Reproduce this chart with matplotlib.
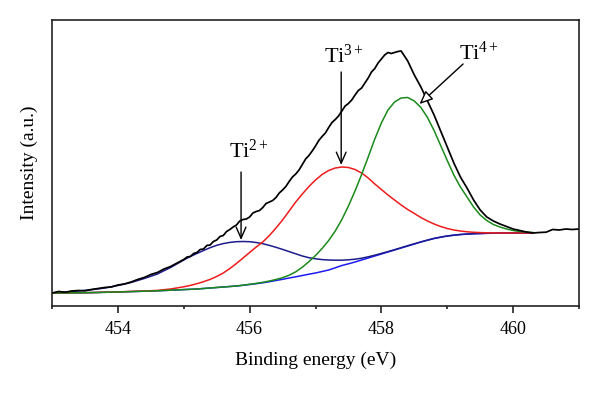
import matplotlib
matplotlib.use("Agg")
import matplotlib.pyplot as plt
from matplotlib.ticker import MultipleLocator

# ---------------- data ----------------
# measured spectrum
energy_raw = [453.00, 453.10, 453.20, 453.30, 453.40, 453.50, 453.60, 453.70, 453.80, 453.90,
              454.00, 454.10, 454.20, 454.30, 454.40, 454.50, 454.60, 454.70, 454.80, 454.90,
              455.00, 455.05, 455.10, 455.15, 455.20, 455.25, 455.30, 455.35, 455.40, 455.45,
              455.50, 455.55, 455.60, 455.65, 455.70, 455.75, 455.80, 455.85, 455.90, 455.95,
              456.00, 456.05, 456.10, 456.15, 456.20, 456.25, 456.30, 456.35, 456.40, 456.45,
              456.50, 456.55, 456.60, 456.65, 456.70, 456.75, 456.80, 456.85, 456.90, 456.95,
              457.00, 457.05, 457.10, 457.15, 457.20, 457.25, 457.30, 457.35, 457.40, 457.45,
              457.50, 457.55, 457.60, 457.65, 457.70, 457.75, 457.80, 457.85, 457.90, 457.95,
              458.00, 458.05, 458.10, 458.15, 458.20, 458.25, 458.30, 458.35, 458.40, 458.50,
              458.60, 458.70, 458.80, 458.90, 459.00, 459.10, 459.20, 459.30, 459.40, 459.50,
              459.60, 459.70, 459.80, 459.90, 460.00, 460.10, 460.20, 460.30, 460.40, 460.50,
              460.60, 460.70, 460.80, 460.90, 461.00]
intensity_raw = [13.0, 14.5, 13.8, 15.0, 15.5, 15.2, 16.5, 17.5, 18.5, 19.0,
                 21.0, 22.0, 24.0, 26.5, 28.5, 31.5, 33.5, 37.0, 39.5, 43.0,
                 46.5, 49.0, 49.5, 52.5, 53.5, 56.5, 57.0, 60.5, 61.0, 64.5,
                 66.0, 69.5, 70.5, 74.5, 76.5, 79.0, 81.0, 85.0, 86.5, 87.0,
                 89.0, 93.0, 94.5, 95.5, 98.5, 102.5, 104.0, 105.5, 108.5, 113.0,
                 116.0, 119.5, 124.5, 129.0, 132.0, 136.0, 141.5, 147.0, 150.5, 155.0,
                 160.0, 165.5, 169.5, 173.0, 178.5, 183.5, 186.5, 190.0, 195.0, 200.0,
                 202.5, 206.0, 211.0, 215.5, 218.0, 223.0, 228.0, 234.0, 237.5, 243.0,
                 247.0, 251.0, 253.5, 252.5, 253.5, 254.5, 255.0, 250.0, 245.0, 231.0,
                 219.0, 205.0, 191.0, 175.0, 159.0, 143.0, 129.0, 118.0, 106.0, 96.0,
                 89.0, 85.0, 82.0, 79.5, 77.0, 75.5, 74.0, 73.0, 73.5, 73.8,
                 76.5, 76.0, 77.0, 76.5, 77.0]

# fitted components, read on a common energy grid
energy_fit = [453.0, 453.2, 453.4, 453.6, 453.8, 454.0, 454.2, 454.4, 454.6, 454.8,
              455.0, 455.1, 455.2, 455.3, 455.4, 455.5, 455.6, 455.7, 455.8, 455.9,
              456.0, 456.1, 456.2, 456.3, 456.4, 456.5, 456.6, 456.7, 456.8, 456.9,
              457.0, 457.1, 457.2, 457.3, 457.4, 457.5, 457.6, 457.7, 457.8, 457.9,
              458.0, 458.1, 458.2, 458.3, 458.4, 458.5, 458.6, 458.7, 458.8, 458.9,
              459.0, 459.1, 459.2, 459.3, 459.4, 459.5, 459.6, 459.7, 459.8, 459.9,
              460.0, 460.1, 460.2, 460.3]
background = [13.0, 13.1, 13.2, 13.4, 13.7, 14.0, 14.4, 14.8, 15.2, 15.8,
              16.4, 16.7, 17.0, 17.5, 18.0, 18.5, 19.0, 19.5, 20.0, 20.7,
              21.5, 22.3, 23.2, 24.3, 25.5, 26.7, 28.0, 29.2, 30.5, 31.8,
              33.0, 34.5, 36.0, 38.2, 40.5, 42.2, 44.0, 46.0, 48.0, 50.0,
              52.0, 54.0, 56.0, 58.0, 60.0, 62.0, 64.0, 65.8, 67.5, 68.8,
              70.0, 70.8, 71.5, 71.9, 72.3, 72.5, 72.7, 72.8, 73.0, 73.0,
              73.0, 73.0, 73.0, 73.0]
ti2_fit = [13.0, 13.9, 15.0, 16.3, 18.0, 20.5, 23.5, 27.5, 32.0, 38.5,
           46.0, 49.5, 52.5, 55.5, 58.3, 60.7, 62.4, 63.6, 64.3, 64.5,
           64.3, 63.5, 62.3, 60.6, 58.7, 56.6, 54.4, 52.2, 50.0, 48.3,
           47.2, 46.4, 46.0, 45.8, 45.8, 46.2, 46.8, 47.8, 49.2, 50.8,
           52.6, 54.4, 56.3, 58.3, 60.3, 62.2, 64.1, 65.9, 67.6, 68.9,
           70.0, 70.8, 71.5, 71.9, 72.3, 72.5, 72.7, 72.8, 73.0, 73.0,
           73.0, 73.0, 73.0, 73.0]
ti3_fit = [13.0, 13.1, 13.2, 13.4, 13.8, 14.1, 14.6, 15.0, 15.6, 17.0,
           19.2, 20.6, 22.3, 24.3, 26.6, 29.5, 33.0, 37.5, 42.5, 48.0,
           53.5, 59.0, 64.0, 70.5, 78.0, 86.0, 95.0, 104.0, 112.0, 119.5,
           126.0, 131.5, 135.5, 138.0, 139.0, 138.5, 136.5, 133.0, 128.0, 122.0,
           116.5, 111.0, 106.0, 101.0, 96.5, 92.5, 88.5, 85.0, 82.0, 79.5,
           77.5, 76.0, 75.0, 74.2, 73.7, 73.4, 73.2, 73.1, 73.0, 73.0,
           73.0, 73.0, 73.0, 73.0]
ti4_fit = [13.0, 13.1, 13.2, 13.4, 13.7, 14.0, 14.4, 14.8, 15.2, 15.8,
           16.4, 16.7, 17.0, 17.5, 18.0, 18.5, 19.0, 19.5, 20.0, 20.8,
           21.7, 22.6, 23.7, 25.0, 26.5, 28.3, 30.8, 34.2, 38.8, 44.3,
           50.5, 57.5, 65.5, 75.0, 86.5, 100.0, 115.0, 131.5, 149.0, 167.0,
           183.0, 196.0, 204.0, 208.0, 208.5, 205.0, 198.5, 188.5, 175.5, 160.5,
           145.5, 131.0, 119.0, 109.0, 99.0, 91.0, 85.5, 81.5, 79.0, 77.0,
           75.5, 74.5, 74.0, 73.5]

x_ticks = [454, 456, 458, 460]
labels = ["Ti$^{2+}$", "Ti$^{3+}$", "Ti$^{4+}$"]
label_pos = [(455.99, 148), (457.43, 243), (459.48, 246)]
arrow_tail = [(455.87, 134), (457.39, 234), (459.24, 242)]
arrow_tip = [(455.87, 66), (457.39, 141), (458.58, 202)]

# ---------------- plotting ----------------
plt.rcParams['font.family'] = ['Liberation Serif', 'DejaVu Serif']
plt.rcParams['mathtext.fontset'] = 'custom'
plt.rcParams['mathtext.rm'] = 'Liberation Serif'
plt.rcParams['mathtext.it'] = 'Liberation Serif:italic'

fig = plt.figure(figsize=(6.0, 3.95), dpi=100)
ax = fig.add_axes([52 / 600, 89 / 395, 527 / 600, 286 / 395])

ax.plot(energy_fit, background, color='#1c1cf0', lw=1.1)
ax.plot(energy_fit, ti2_fit, color='#1c1c8c', lw=1.1)
ax.plot(energy_fit, ti3_fit, color='#ee1c1c', lw=1.1)
ax.plot(energy_fit, ti4_fit, color='#1a8a1a', lw=1.1)
ax.plot(energy_raw, intensity_raw, color='black', lw=1.25)

ax.set_xlim(453, 461)
ax.set_ylim(0, 286)
ax.set_xticks(x_ticks)
ax.xaxis.set_minor_locator(MultipleLocator(1))
ax.tick_params(axis='x', which='major', direction='out', length=5, width=1.2,
               labelsize=13, pad=6, color='#222222')
ax.tick_params(axis='x', which='minor', direction='out', length=2.5, width=1.2,
               color='#222222')
ax.set_yticks([])
for sp in ax.spines.values():
    sp.set_linewidth(1.2)
    sp.set_color('#222222')

ax.set_xlabel('Binding energy (eV)', fontsize=14, labelpad=10)
ax.set_ylabel('Intensity (a.u.)', fontsize=14, labelpad=10)

styles = ['->,head_length=0.8,head_width=0.35',
          '->,head_length=0.8,head_width=0.35',
          '-|>,head_length=0.8,head_width=0.35']
for lab, pos, tail, tip, st in zip(labels, label_pos, arrow_tail, arrow_tip, styles):
    ax.text(pos[0], pos[1], lab, ha='center', va='baseline', fontsize=16)
    ax.annotate('', xy=tip, xytext=tail,
                arrowprops=dict(arrowstyle=st, color='black', lw=1.0,
                                fc='white', shrinkA=0, shrinkB=0,
                                mutation_scale=10))

fig.savefig('out.png', dpi=100)
